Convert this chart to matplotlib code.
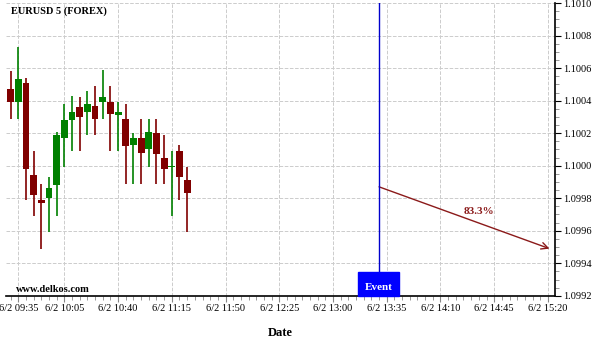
import matplotlib
matplotlib.use('Agg')
import matplotlib.pyplot as plt
from matplotlib.patches import Rectangle
from matplotlib.ticker import FixedLocator, MultipleLocator, FormatStrFormatter

# 5-minute candles, EURUSD on 6/2
times = ['09:30', '09:35', '09:40', '09:45', '09:50', '09:55', '10:00', '10:05',
         '10:10', '10:15', '10:20', '10:25', '10:30', '10:35', '10:40', '10:45',
         '10:50', '10:55', '11:00', '11:05', '11:10', '11:15', '11:20', '11:25']
opens = [1.10047, 1.10039, 1.10051, 1.09994, 1.09979, 1.09980, 1.09988, 1.10017,
         1.10028, 1.10036, 1.10033, 1.10037, 1.10039, 1.10039, 1.10031, 1.10029,
         1.10013, 1.10017, 1.10010, 1.10020, 1.10005, 1.09999, 1.10009, 1.09991]
highs = [1.10058, 1.10073, 1.10054, 1.10009, 1.09989, 1.09993, 1.10021, 1.10038,
         1.10043, 1.10042, 1.10046, 1.10049, 1.10059, 1.10049, 1.10039, 1.10038,
         1.10020, 1.10029, 1.10029, 1.10029, 1.10019, 1.10009, 1.10013, 1.09999]
lows = [1.10029, 1.10029, 1.09979, 1.09969, 1.09949, 1.09959, 1.09969, 1.09999,
        1.10009, 1.10009, 1.10019, 1.10019, 1.10029, 1.10009, 1.10009, 1.09989,
        1.09989, 1.09989, 1.09999, 1.09989, 1.09989, 1.09969, 1.09979, 1.09959]
closes = [1.10039, 1.10053, 1.09998, 1.09982, 1.09977, 1.09986, 1.10019, 1.10028,
          1.10033, 1.10030, 1.10038, 1.10029, 1.10042, 1.10032, 1.10033, 1.10012,
          1.10017, 1.10008, 1.10021, 1.10007, 1.09998, 1.09999, 1.09993, 1.09983]

tick_times = ['09:35', '10:05', '10:40', '11:15', '11:50', '12:25',
              '13:00', '13:35', '14:10', '14:45', '15:20']
tick_labels = ['6/2 ' + t for t in tick_times]

event_time = '13:30'
event_price = 1.09987
target_time = '15:21'
target_price = 1.09949
prob_label = '83.3%'

def to_min(t):
    h, m = t.split(':')
    return int(h) * 60 + int(m) - (9 * 60 + 35)

plt.rcParams['font.family'] = ['Liberation Serif', 'DejaVu Serif']

fig = plt.figure(figsize=(6, 3.4), dpi=100)
ax = fig.add_axes([0.01, 0.13, 0.915, 0.861])

up_c = '#008000'
dn_c = '#800000'
x = [to_min(t) for t in times]
for xi, o, h, l, c in zip(x, opens, highs, lows, closes):
    col = up_c if c >= o else dn_c
    ax.vlines(xi, l, h, color=col, lw=1.2, zorder=3)
    ax.bar(xi, max(abs(c - o), 0.000008), bottom=min(o, c), width=4.5,
           color=col, linewidth=0, zorder=4)

ex = to_min(event_time)
ax.axvline(ex, ymin=0.082, ymax=1, color='#0000cc', lw=1, zorder=5)
ax.add_patch(Rectangle((ex - 13.7, 0), 26.7, 0.082, color='#0000ff',
                       transform=ax.get_xaxis_transform(), zorder=6, clip_on=False))
ax.text(ex - 0.5, 0.03, 'Event', transform=ax.get_xaxis_transform(), color='white',
        fontsize=8, fontweight='bold', ha='center', va='center', zorder=7)

ax.annotate('', xy=(to_min(target_time), target_price), xytext=(ex, event_price),
            arrowprops=dict(arrowstyle='->', color='#8b1a1a', lw=1, mutation_scale=12,
                            shrinkA=0, shrinkB=0))
ax.text(to_min('14:35'), 1.09972, prob_label, color='#8b1a1a', fontsize=8,
        fontweight='bold', ha='center', va='center')

ax.text(0.009, 0.972, 'EURUSD 5 (FOREX)', transform=ax.transAxes, fontsize=7.5,
        fontweight='bold', va='center')
ax.text(0.018, 0.02, 'www.delkos.com', transform=ax.transAxes, fontsize=7.5,
        fontweight='bold', va='center')

ax.set_xlim(-8, 349.6)
ax.set_ylim(1.0992, 1.1010)

major_x = [to_min(t) for t in tick_times]
ax.xaxis.set_major_locator(FixedLocator(major_x))
ax.set_xticklabels(tick_labels)
ax.xaxis.set_minor_locator(MultipleLocator(5))

ax.yaxis.tick_right()
ax.yaxis.set_major_locator(MultipleLocator(0.0002))
ax.yaxis.set_minor_locator(MultipleLocator(0.00005))
ax.yaxis.set_major_formatter(FormatStrFormatter('%.4f'))

ax.tick_params(axis='both', which='major', labelsize=7.5, length=4, width=0.8, pad=2)
ax.tick_params(axis='both', which='minor', length=3, width=0.6)
ax.tick_params(axis='x', which='both', colors='#888888', labelcolor='black')
ax.tick_params(axis='y', which='minor', colors='#888888')

for s in ['left', 'top']:
    ax.spines[s].set_visible(False)
for s in ['right', 'bottom']:
    ax.spines[s].set_linewidth(1.2)

ax.grid(True, which='major', color='#cccccc', linestyle='--', linewidth=0.7)
ax.set_axisbelow(True)

ax.set_xlabel('Date', fontsize=9, fontweight='bold')
ax.xaxis.set_label_coords(0.5, -0.105)

fig.savefig('out.png', dpi=100)
